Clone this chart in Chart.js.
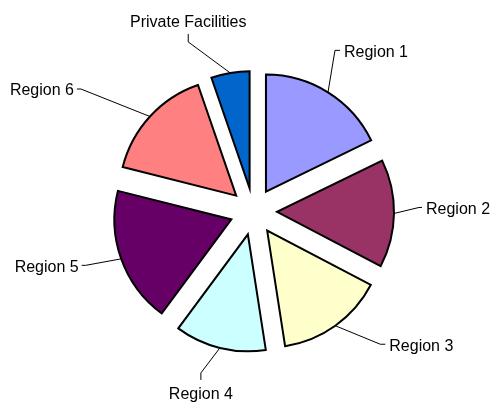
<!DOCTYPE html>
<html>
<head>
<meta charset="utf-8">
<script src="https://cdn.jsdelivr.net/npm/chart.js@4.4.1/dist/chart.umd.min.js"></script>
<style>
  html, body { margin: 0; padding: 0; background: #fff; }
  #wrap { width: 496px; height: 403px; }
</style>
</head>
<body>
<div id="wrap"><canvas id="pie" width="496" height="403"></canvas></div>
<script>
// data (share of the whole)
const regions = ['Region 1', 'Region 2', 'Region 3', 'Region 4', 'Region 5', 'Region 6', 'Private Facilities'];
const shares = [178, 149, 149, 126, 188, 158, 53];
const sliceColors = ['#9999FF', '#993366', '#FFFFCC', '#CCFFFF', '#660066', '#FF8080', '#0066CC'];

// leader lines: edge -> elbow -> tail, then the text
const leaders = [
  { elbow: [7, -42],    tail: [5, 0],  align: 'left' },
  { elbow: [25, -6],    tail: [3, 0],  align: 'left' },
  { elbow: [45, 18.5],  tail: [5, 0],  align: 'left' },
  { elbow: [-19, 25],   tail: [0, 7],  align: 'below' },
  { elbow: [-35.5, 6.5],tail: [-4, 0], align: 'right' },
  { elbow: [-69, -27.5],tail: [-4, 0], align: 'right' },
  { elbow: [-42, -31],  tail: [0, -8], align: 'above' }
];

const EXPLODE = 23.5;

// push every slice out along its middle angle
const explodePlugin = {
  id: 'explode',
  afterDatasetUpdate(chart, args) {
    args.meta.data.forEach(arc => {
      const mid = (arc.startAngle + arc.endAngle) / 2;
      arc.x += Math.cos(mid) * EXPLODE;
      arc.y += Math.sin(mid) * EXPLODE;
    });
  }
};

const labelPlugin = {
  id: 'leaderLabels',
  afterDatasetsDraw(chart) {
    const ctx = chart.ctx;
    const arcs = chart.getDatasetMeta(0).data;
    ctx.save();
    ctx.strokeStyle = '#000';
    ctx.lineWidth = 1;
    ctx.fillStyle = '#000';
    ctx.font = '16px "Liberation Sans", Arial, sans-serif';
    arcs.forEach((arc, i) => {
      const l = leaders[i];
      const mid = (arc.startAngle + arc.endAngle) / 2;
      const ex = arc.x + Math.cos(mid) * arc.outerRadius;
      const ey = arc.y + Math.sin(mid) * arc.outerRadius;
      const bx = ex + l.elbow[0], by = ey + l.elbow[1];
      const tx = bx + l.tail[0], ty = by + l.tail[1];
      ctx.beginPath();
      ctx.moveTo(ex, ey);
      ctx.lineTo(bx, by);
      ctx.lineTo(tx, ty);
      ctx.stroke();
      ctx.textBaseline = 'middle';
      if (l.align === 'left') {
        ctx.textAlign = 'left';
        ctx.fillText(regions[i], tx + 4, ty + 2);
      } else if (l.align === 'right') {
        ctx.textAlign = 'right';
        ctx.fillText(regions[i], tx - 3, ty + 2);
      } else if (l.align === 'below') {
        ctx.textAlign = 'center';
        ctx.fillText(regions[i], tx, ty + 15);
      } else {
        ctx.textAlign = 'center';
        ctx.fillText(regions[i], tx, ty - 11);
      }
    });
    ctx.restore();
  }
};

new Chart(document.getElementById('pie'), {
  type: 'pie',
  data: {
    labels: regions,
    datasets: [{
      data: shares,
      backgroundColor: sliceColors,
      borderColor: '#000',
      borderWidth: 2,
      borderJoinStyle: 'miter',
      radius: 117
    }]
  },
  options: {
    responsive: false,
    animation: false,
    events: [],
    layout: { padding: { left: 11, right: 0, top: 20, bottom: 0 } },
    plugins: {
      legend: { display: false },
      tooltip: { enabled: false },
      title: { display: false }
    }
  },
  plugins: [explodePlugin, labelPlugin]
});
</script>
</body>
</html>
